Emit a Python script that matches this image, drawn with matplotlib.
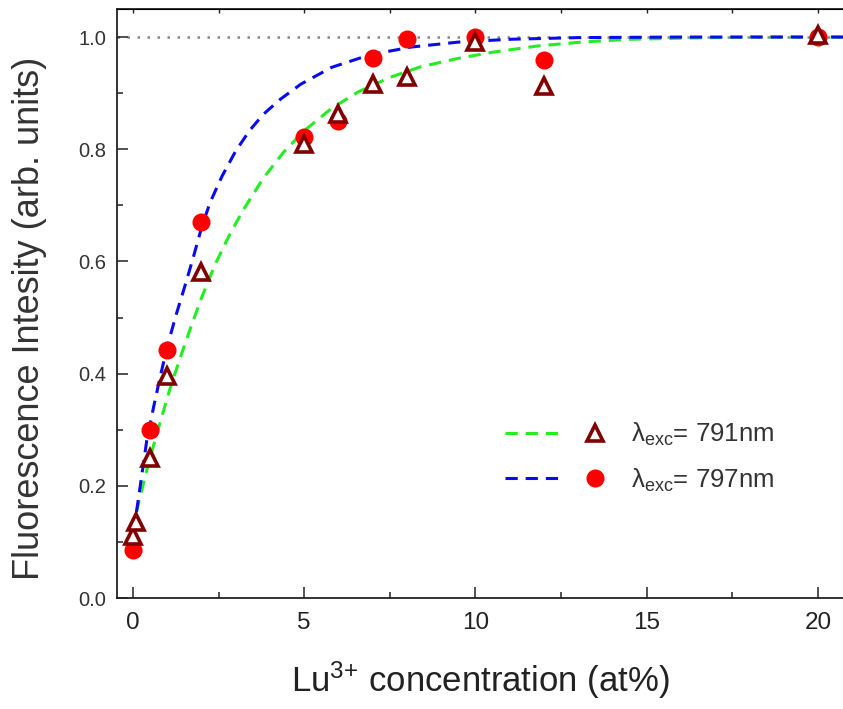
import matplotlib
matplotlib.use("Agg")
import matplotlib.pyplot as plt
from matplotlib.lines import Line2D
from matplotlib.legend_handler import HandlerTuple
from matplotlib.ticker import MultipleLocator

plt.rcParams["font.family"] = ["Liberation Sans", "DejaVu Sans"]
plt.rcParams["mathtext.fontset"] = "custom"
plt.rcParams["mathtext.rm"] = "Liberation Sans"

# measured points
conc_791 = [0, 0.1, 0.5, 1, 2, 5, 6, 7, 8, 10, 12, 20]
int_791 = [0.110, 0.135, 0.250, 0.395, 0.582, 0.810, 0.862, 0.917, 0.928, 0.992, 0.912, 1.003]

conc_797 = [0, 0.5, 1, 2, 5, 6, 7, 8, 10, 12, 20]
int_797 = [0.086, 0.300, 0.442, 0.670, 0.822, 0.851, 0.962, 0.996, 1.000, 0.959, 1.000]

# fitted curves
fit_x_791 = [0.1, 0.35, 0.6, 0.85, 1.1, 1.4, 1.7, 2.0, 2.4, 2.8, 3.2, 3.8, 4.4, 5.0,
             5.8, 6.6, 7.5, 8.4, 9.5, 10.5, 11.8, 13.1, 14.5, 16, 18, 21]
fit_y_791 = [0.153, 0.216, 0.272, 0.325, 0.377, 0.432, 0.485, 0.535, 0.595, 0.645, 0.690,
             0.748, 0.795, 0.833, 0.873, 0.903, 0.928, 0.947, 0.962, 0.973, 0.984, 0.991,
             0.996, 0.998, 1.0, 1.0]

fit_x_797 = [0.1, 0.25, 0.4, 0.6, 0.8, 1.0, 1.25, 1.5, 1.75, 2.0, 2.25, 2.6, 3.0, 3.4,
             3.8, 4.3, 4.9, 5.8, 6.9, 8.1, 9.5, 11, 13, 16, 21]
fit_y_797 = [0.153, 0.216, 0.280, 0.340, 0.396, 0.448, 0.503, 0.553, 0.605, 0.660, 0.705,
             0.752, 0.797, 0.833, 0.862, 0.889, 0.916, 0.946, 0.968, 0.982, 0.991, 0.996,
             0.999, 1.0, 1.0]

labels = ["$\\mathregular{\u03bb_{exc}}$= 791nm", "$\\mathregular{\u03bb_{exc}}$= 797nm"]
x_label = "$\\mathregular{Lu^{3{+}}}$ concentration (at%)"
y_label = "Fluorescence Intesity (arb. units)"

green = "#22ee22"
blue = "#0a0aee"
dark_red = "#800000"
txt = "#333333"

fig = plt.figure(figsize=(8.43, 7.09), dpi=100)
ax = fig.add_axes([117 / 843, 1 - 598 / 709, 726 / 843, 589 / 709])

ax.axhline(1.0, color="#888888", ls=(0, (1, 3)), lw=1.8, zorder=1)

dash = (0, (4, 2.6))
ax.plot(fit_x_791, fit_y_791, color=green, lw=2.2, ls=dash, zorder=2)
ax.plot(fit_x_797, fit_y_797, color=blue, lw=2.2, ls=dash, zorder=2)

ax.plot(conc_797, int_797, "o", color="red", ms=13, mec="none", zorder=3)
ax.plot(conc_791, int_791, "^", mfc="white", mec=dark_red, mew=2.6, ms=11, zorder=4)

ax.set_xlim(-0.467, 20.73)
ax.set_ylim(0, 1.05)

ax.xaxis.set_major_locator(MultipleLocator(5))
ax.xaxis.set_minor_locator(MultipleLocator(2.5))
ax.yaxis.set_major_locator(MultipleLocator(0.2))
ax.yaxis.set_minor_locator(MultipleLocator(0.1))
ax.yaxis.set_major_formatter(plt.FormatStrFormatter("%.1f"))

ax.tick_params(which="both", direction="in", width=1.1, color="#222222")
ax.tick_params(which="major", length=8)
ax.tick_params(which="minor", length=4.5)
ax.tick_params(axis="y", labelsize=14.5, labelcolor=txt, pad=8)
ax.tick_params(axis="x", labelsize=17.5, labelcolor="#222222", pad=10)

top = ax.secondary_xaxis("top")
top.xaxis.set_major_locator(MultipleLocator(5))
top.xaxis.set_minor_locator(MultipleLocator(2.5))
top.tick_params(which="both", direction="in", length=3, width=1.0, labeltop=False,
                color="#222222")

for side in ["left", "bottom"]:
    ax.spines[side].set_linewidth(1.3)
    ax.spines[side].set_color("#222222")
top.spines["top"].set_linewidth(1.3)
top.spines["top"].set_color("#222222")
ax.spines["right"].set_visible(False)

ax.set_xlabel(x_label, fontsize=25, color="#222222")
ax.xaxis.set_label_coords(0.501, -0.105)
ax.set_ylabel(y_label, fontsize=26, color=txt)
ax.yaxis.set_label_coords(-0.097, 0.474)

h_line_791 = Line2D([], [], color=green, lw=2.2, ls=dash)
h_mark_791 = Line2D([], [], marker="^", ls="none", mfc="white", mec=dark_red, mew=2.6, ms=11)
h_line_797 = Line2D([], [], color=blue, lw=2.2, ls=dash)
h_mark_797 = Line2D([], [], marker="o", ls="none", color="red", mec="none", ms=13)

ax.legend([(h_line_791, h_mark_791), (h_line_797, h_mark_797)], labels,
          handler_map={tuple: HandlerTuple(ndivide=None, pad=0.1)},
          loc="center left", bbox_to_anchor=(0.534, 0.239), frameon=False,
          fontsize=18.5, handlelength=4.67, handletextpad=0.25, labelspacing=0.72,
          borderpad=0, borderaxespad=0, labelcolor=txt)

fig.savefig("out.png", dpi=100)
